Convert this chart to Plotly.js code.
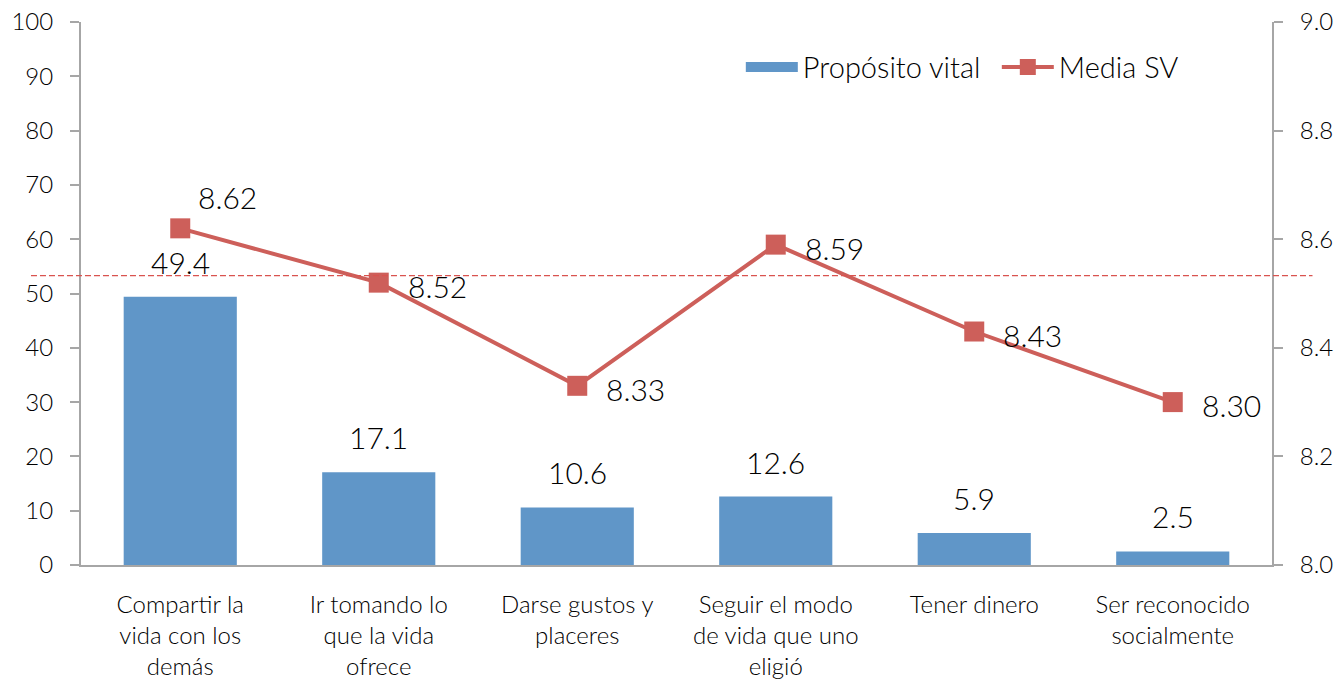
<!DOCTYPE html>
<html>
<head>
<meta charset="utf-8">
<script src="https://cdn.plot.ly/plotly-3.0.1.min.js"></script>
<style>html,body{margin:0;padding:0;background:#fff;}#chart{width:1338px;height:689px;}</style>
</head>
<body>
<div id="chart"></div>
<script>
const categories = [
  "Compartir la<br>vida con los<br>demás",
  "Ir tomando lo<br>que la vida<br>ofrece",
  "Darse gustos y<br>placeres",
  "Seguir el modo<br>de vida que uno<br>eligió",
  "Tener dinero",
  "Ser reconocido<br>socialmente"
];
const propositoVital = [49.4, 17.1, 10.6, 12.6, 5.9, 2.5];
const mediaSV = [8.62, 8.52, 8.33, 8.59, 8.43, 8.30];
const mediaSVLabelPos = ["top right", "right", "right", "right", "right", "right"];
const referenceMean = 8.533;
const leftTicks = [0, 10, 20, 30, 40, 50, 60, 70, 80, 90, 100];
const rightTicks = [8.0, 8.2, 8.4, 8.6, 8.8, 9.0];

const FONT = "Lato, 'Open Sans', sans-serif";
const TXT = "#000000";
const axisColor = "#A6A6A6";
const barColor = "#6096C8";
const lineColor = "#CD5F5A";

const bars = {
  type: "bar",
  name: "Propósito vital",
  x: categories,
  y: propositoVital,
  marker: {color: barColor},
  showlegend: false,
  hoverinfo: "none"
};
// legend swatch for the bars (wide rectangle like the original)
const barLegend = {
  type: "scatter",
  mode: "lines",
  name: "Propósito vital",
  x: [categories[0]],
  y: [null],
  line: {color: barColor, width: 17},
  showlegend: true,
  hoverinfo: "none"
};
const line = {
  type: "scatter",
  mode: "lines+markers",
  name: "Media SV",
  x: categories,
  y: mediaSV,
  yaxis: "y2",
  line: {color: lineColor, width: 4},
  marker: {symbol: "square", size: 20, color: lineColor},
  cliponaxis: false,
  hoverinfo: "none"
};

const labelFont = {family: FONT, size: 30, color: TXT, weight: 300};
const annotations = [];
propositoVital.forEach((v, i) => {
  annotations.push({
    x: categories[i], y: v, xref: "x", yref: "y",
    text: v.toFixed(1), showarrow: false,
    xanchor: "center", yanchor: "bottom", yshift: 15,
    font: labelFont
  });
});
mediaSV.forEach((v, i) => {
  const top = mediaSVLabelPos[i] === "top right";
  annotations.push({
    x: categories[i], y: v, xref: "x", yref: "y2",
    text: v.toFixed(2), showarrow: false,
    xanchor: top ? "center" : "left", yanchor: "middle",
    xshift: top ? 47 : 27, yshift: top ? 31 : -3,
    font: labelFont
  });
});

const layout = {
  width: 1338,
  height: 689,
  margin: {l: 81, r: 66, t: 22, b: 124, autoexpand: false},
  paper_bgcolor: "#fff",
  plot_bgcolor: "#fff",
  font: {family: FONT, size: 24, color: TXT, weight: 300},
  bargap: 0.43,
  showlegend: true,
  legend: {
    orientation: "h",
    x: 0.554, xanchor: "left",
    y: 0.917, yanchor: "middle",
    font: {family: FONT, size: 29, color: TXT, weight: 300},
    bgcolor: "rgba(0,0,0,0)",
    itemwidth: 52,
    entrywidth: 189,
    tracegroupgap: 0
  },
  xaxis: {
    type: "category",
    showline: true, linecolor: axisColor, linewidth: 2,
    ticks: "", showgrid: false, zeroline: false,
    tickfont: {family: FONT, size: 24, color: TXT, weight: 300},
    ticklabelstandoff: 17,
    fixedrange: true
  },
  yaxis: {
    range: [0, 100],
    tickvals: leftTicks,
    ticktext: leftTicks.map(String),
    showline: true, linecolor: axisColor, linewidth: 2,
    ticks: "outside", ticklen: 9, tickwidth: 2, tickcolor: axisColor,
    showgrid: false, zeroline: false,
    tickfont: {family: FONT, size: 24, color: TXT, weight: 300},
    ticklabelstandoff: 12,
    fixedrange: true
  },
  yaxis2: {
    overlaying: "y",
    side: "right",
    range: [8.0, 9.0],
    tickvals: rightTicks,
    ticktext: rightTicks.map(v => v.toFixed(1)),
    showline: true, linecolor: axisColor, linewidth: 2,
    ticks: "outside", ticklen: 9, tickwidth: 2, tickcolor: axisColor,
    showgrid: false, zeroline: false,
    tickfont: {family: FONT, size: 24, color: TXT, weight: 300},
    ticklabelstandoff: 12,
    fixedrange: true
  },
  annotations: annotations,
  shapes: [{
    type: "line",
    xref: "paper", yref: "y2",
    x0: -0.042, x1: 1.034,
    y0: referenceMean, y1: referenceMean,
    line: {color: "#D9534F", width: 1.2, dash: "6px,3px"},
    layer: "above"
  }]
};

Plotly.newPlot("chart", [bars, barLegend, line], layout, {displayModeBar: false, staticPlot: true});
</script>
</body>
</html>
